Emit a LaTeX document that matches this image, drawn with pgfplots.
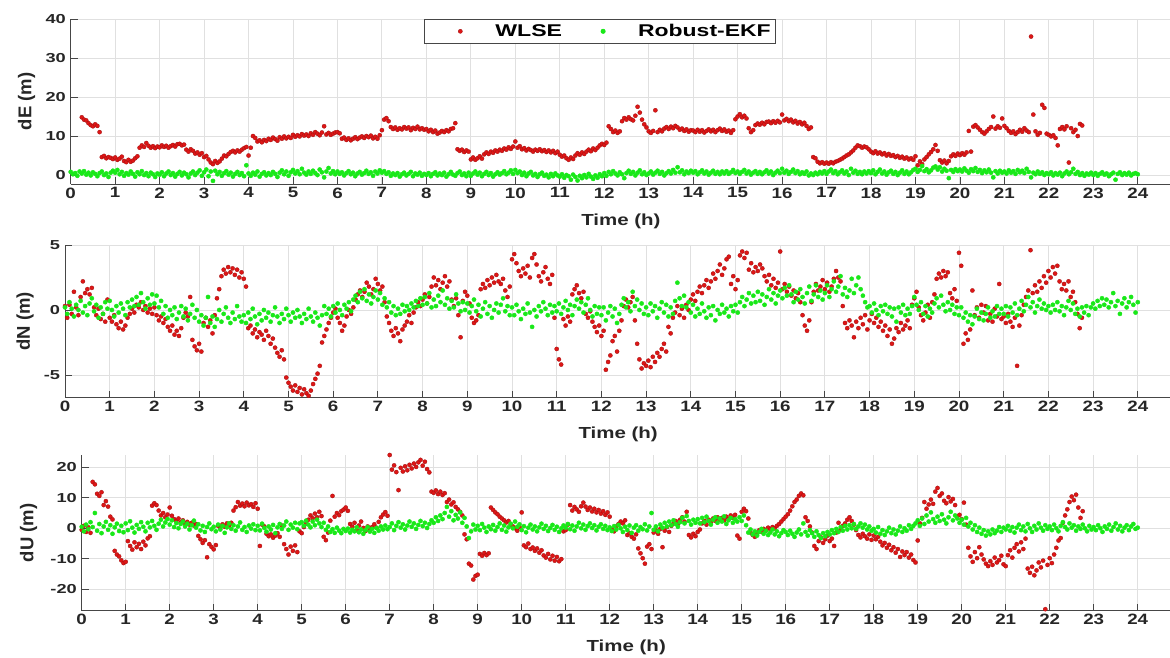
\documentclass[border=0pt]{standalone}
\usepackage{fontspec}
\setmainfont{Liberation Sans}
\usepackage{graphicx}
\usepackage{pgfplots}
\usepackage{pgfplotstable}
\pgfplotsset{compat=1.18}

\definecolor{wlse}{RGB}{222,22,22}
\definecolor{rekf}{RGB}{25,232,25}
\definecolor{gridc}{RGB}{224,224,224}
\definecolor{axc}{RGB}{70,70,70}
\definecolor{txt}{RGB}{38,38,38}

% dE (m): time, WLSE, Robust-EKF
\pgfplotstableread{
t w g
0.00 nan 0.8
0.05 nan 0.2
0.10 nan 0.5
0.15 nan -0.2
0.20 nan 0.9
0.25 14.8 0.4
0.30 14.2 1.0
0.35 14.0 0.1
0.40 13.3 0.6
0.45 12.8 -0.1
0.50 12.5 0.7
0.55 13.0 0.3
0.60 12.6 -0.3
0.65 11.0 0.5
0.70 4.6 0.9
0.75 4.9 0.0
0.80 4.3 0.4
0.85 4.6 -0.5
0.90 4.4 0.6
0.95 4.1 1.1
1.00 4.5 0.6
1.05 3.9 1.3
1.10 4.2 0.2
1.15 4.7 0.8
1.20 3.6 -0.2
1.25 3.3 0.5
1.30 3.9 0.1
1.35 3.4 0.9
1.40 3.7 0.3
1.45 4.3 -0.4
1.50 4.8 0.7
1.55 7.0 0.2
1.60 7.6 1.0
1.65 7.2 0.0
1.70 8.2 0.5
1.75 7.5 -0.3
1.80 7.0 0.6
1.85 7.4 0.2
1.90 6.9 -0.5
1.95 7.3 0.4
2.00 7.1 0.1
2.05 7.6 0.7
2.10 7.2 -0.3
2.15 7.5 0.4
2.20 7.0 0.9
2.25 7.4 0.0
2.30 7.7 0.5
2.35 7.3 -0.4
2.40 7.9 0.3
2.45 8.0 0.8
2.50 7.6 -0.1
2.55 7.8 0.6
2.60 6.5 0.2
2.65 6.0 -0.6
2.70 6.6 0.4
2.75 6.2 0.9
2.80 5.5 0.0
2.85 5.8 0.6
2.90 5.2 1.2
2.95 5.6 -0.2
3.00 4.6 0.7
3.05 4.9 1.4
3.10 4.0 -0.3
3.15 3.2 0.9
3.20 2.8 -1.5
3.25 3.6 1.1
3.30 3.1 0.2
3.35 3.5 0.8
3.40 4.2 -0.2
3.45 5.0 0.5
3.50 4.8 1.0
3.55 5.4 0.1
3.60 5.9 0.6
3.65 6.2 -0.4
3.70 5.8 0.3
3.75 6.3 0.8
3.80 6.0 0.0
3.85 6.5 0.5
3.90 6.9 -0.3
3.95 7.2 2.5
4.00 5.0 0.4
4.05 7.0 -0.2
4.10 10.0 0.6
4.15 9.5 0.1
4.20 8.6 0.9
4.25 8.9 -0.4
4.30 8.4 0.3
4.35 9.0 0.7
4.40 8.7 -0.1
4.45 9.3 0.5
4.50 9.0 0.0
4.55 9.6 0.8
4.60 9.2 0.3
4.65 8.8 -0.5
4.70 9.7 0.6
4.75 9.3 1.2
4.80 9.9 0.2
4.85 9.4 0.9
4.90 9.8 -0.2
4.95 9.5 0.7
5.00 10.3 1.3
5.05 9.8 0.4
5.10 10.2 1.0
5.15 9.9 0.2
5.20 10.5 1.6
5.25 10.1 0.6
5.30 10.4 0.1
5.35 10.0 0.9
5.40 10.7 0.3
5.45 10.3 1.1
5.50 11.0 0.5
5.55 10.6 0.0
5.60 10.2 1.4
5.65 10.9 0.7
5.70 12.5 -0.6
5.75 10.4 0.9
5.80 10.8 1.8
5.85 10.3 0.4
5.90 10.6 1.0
5.95 10.9 0.2
6.00 11.0 0.9
6.05 10.7 0.3
6.10 9.3 0.7
6.15 9.6 -0.1
6.20 9.0 0.5
6.25 9.4 1.0
6.30 8.9 0.2
6.35 9.3 0.6
6.40 9.7 -0.3
6.45 9.2 0.4
6.50 9.6 0.8
6.55 9.9 0.1
6.60 9.5 0.5
6.65 10.0 1.1
6.70 9.7 0.3
6.75 10.1 0.7
6.80 9.4 -0.2
6.85 9.8 0.9
6.90 9.3 0.4
6.95 10.2 1.2
7.00 11.5 0.6
7.05 14.2 1.0
7.10 14.6 0.3
7.15 13.8 0.7
7.20 12.3 -0.2
7.25 11.8 0.4
7.30 12.2 0.0
7.35 11.6 0.5
7.40 12.0 -0.4
7.45 11.7 0.2
7.50 12.3 0.6
7.55 11.9 -0.1
7.60 12.2 0.3
7.65 11.5 0.8
7.70 12.1 -0.3
7.75 11.8 0.4
7.80 12.4 0.1
7.85 11.7 0.6
7.90 12.0 -0.2
7.95 11.6 0.3
8.00 11.8 0.0
8.05 11.2 0.5
8.10 11.6 -0.3
8.15 11.0 0.3
8.20 11.4 0.7
8.25 10.6 -0.1
8.30 10.9 0.4
8.35 11.3 0.0
8.40 11.0 0.6
8.45 11.5 -0.4
8.50 11.2 0.2
8.55 11.8 0.8
8.60 12.0 0.1
8.65 13.3 -0.2
8.70 6.6 0.5
8.75 6.2 0.9
8.80 6.5 0.0
8.85 5.9 0.4
8.90 6.3 -0.3
8.95 6.0 0.6
9.00 4.0 -0.2
9.05 4.5 0.4
9.10 3.9 0.9
9.15 4.3 0.1
9.20 4.8 0.6
9.25 4.2 -0.3
9.30 5.3 0.3
9.35 5.8 0.8
9.40 5.4 0.0
9.45 6.0 0.5
9.50 5.7 -0.4
9.55 6.3 0.2
9.60 6.0 0.7
9.65 6.5 0.1
9.70 6.2 0.5
9.75 6.8 1.0
9.80 6.5 0.2
9.85 7.1 0.6
9.90 6.7 1.2
9.95 7.3 0.3
10.00 8.6 1.3
10.05 7.0 0.5
10.10 7.4 0.9
10.15 6.6 0.0
10.20 6.9 0.6
10.25 6.3 -0.3
10.30 6.7 0.4
10.35 6.4 0.8
10.40 6.0 -0.1
10.45 6.5 0.3
10.50 6.2 -0.5
10.55 6.6 0.2
10.60 6.1 0.6
10.65 6.4 -0.2
10.70 5.9 0.1
10.75 6.3 -0.6
10.80 5.8 0.3
10.85 6.2 -0.3
10.90 5.6 0.4
10.95 6.0 -0.1
11.00 5.2 -0.4
11.05 4.7 0.2
11.10 5.0 -0.7
11.15 4.3 0.0
11.20 3.9 -0.3
11.25 4.5 -1.2
11.30 4.1 0.1
11.35 5.0 -0.5
11.40 5.6 -1.4
11.45 5.2 -0.2
11.50 5.8 -0.8
11.55 5.4 0.0
11.60 6.0 -0.6
11.65 6.5 0.3
11.70 6.1 -0.4
11.75 6.8 -1.0
11.80 6.4 -0.1
11.85 7.0 -0.7
11.90 7.6 0.2
11.95 8.0 -0.3
12.00 7.7 0.5
12.05 8.3 -0.2
12.10 12.5 0.8
12.15 11.8 0.2
12.20 11.0 1.0
12.25 11.4 0.4
12.30 10.8 -0.1
12.35 11.2 0.7
12.40 13.8 0.2
12.45 14.6 -0.8
12.50 14.2 0.5
12.55 14.8 1.1
12.60 14.3 0.3
12.65 14.0 0.8
12.70 15.2 -0.1
12.75 17.5 0.6
12.80 16.0 1.2
12.85 14.2 0.2
12.90 13.0 0.7
12.95 12.2 0.0
13.00 11.2 0.4
13.05 10.8 0.9
13.10 11.3 0.1
13.15 16.6 0.6
13.20 11.0 1.1
13.25 11.6 0.3
13.30 11.2 0.8
13.35 11.9 -0.1
13.40 12.3 0.5
13.45 11.8 1.0
13.50 12.4 0.4
13.55 12.0 1.3
13.60 12.6 0.6
13.65 12.2 2.0
13.70 11.6 0.7
13.75 11.9 1.2
13.80 11.3 0.2
13.85 11.7 0.9
13.90 11.1 0.5
13.95 11.5 1.1
14.00 11.4 0.6
14.05 11.0 1.0
14.10 11.6 0.2
14.15 11.1 0.7
14.20 11.5 1.2
14.25 10.9 0.4
14.30 11.3 0.9
14.35 11.7 0.1
14.40 11.2 0.6
14.45 11.6 1.1
14.50 11.0 0.3
14.55 11.5 0.8
14.60 11.9 0.2
14.65 11.3 0.9
14.70 11.7 0.4
14.75 11.1 1.0
14.80 11.4 0.3
14.85 10.8 0.7
14.90 11.5 1.3
14.95 14.3 0.5
15.00 15.0 0.9
15.05 15.6 0.3
15.10 14.8 0.8
15.15 15.2 1.3
15.20 14.5 0.4
15.25 12.0 0.9
15.30 11.0 0.1
15.35 11.5 0.6
15.40 12.8 1.0
15.45 13.2 0.3
15.50 12.9 0.8
15.55 13.4 0.2
15.60 13.0 0.7
15.65 13.6 1.2
15.70 13.7 0.4
15.75 13.3 0.9
15.80 13.8 0.0
15.85 13.4 0.6
15.90 13.9 1.1
15.95 13.5 0.5
16.00 15.5 1.6
16.05 14.0 0.6
16.10 14.4 1.1
16.15 13.8 0.3
16.20 14.2 0.8
16.25 13.5 1.4
16.30 13.9 0.5
16.35 13.2 1.0
16.40 13.6 0.2
16.45 13.0 0.7
16.50 13.4 0.3
16.55 12.6 0.9
16.60 11.8 -0.1
16.65 12.2 0.4
16.70 4.6 0.0
16.75 4.3 0.6
16.80 3.4 0.2
16.85 3.0 0.8
16.90 3.3 0.4
16.95 2.9 1.0
17.00 3.2 0.3
17.05 2.9 0.9
17.10 3.3 1.4
17.15 3.0 0.5
17.20 3.4 1.0
17.25 3.6 0.2
17.30 3.9 0.7
17.35 4.2 1.2
17.40 4.6 0.4
17.45 5.0 0.9
17.50 5.3 0.0
17.55 5.8 1.6
17.60 6.3 0.6
17.65 7.0 1.1
17.70 7.6 0.3
17.75 7.4 0.8
17.80 7.0 0.2
17.85 7.3 0.9
17.90 7.1 0.4
17.95 6.6 1.0
18.00 6.0 0.5
18.05 5.6 1.2
18.10 6.1 0.2
18.15 5.5 0.8
18.20 5.8 1.4
18.25 5.3 0.4
18.30 5.6 0.9
18.35 5.0 0.1
18.40 5.4 0.7
18.45 4.9 1.1
18.50 5.1 0.3
18.55 4.6 0.8
18.60 4.9 0.0
18.65 4.4 0.6
18.70 4.7 1.2
18.75 4.2 0.3
18.80 4.5 0.9
18.85 4.0 0.2
18.90 4.3 0.7
18.95 3.9 1.3
19.00 4.8 1.6
19.05 2.5 0.8
19.10 3.5 1.3
19.15 2.8 2.3
19.20 4.0 1.0
19.25 4.6 1.5
19.30 5.3 0.7
19.35 5.9 1.2
19.40 6.6 1.9
19.45 7.7 2.2
19.50 6.2 1.4
19.55 3.8 2.0
19.60 3.2 0.9
19.65 3.7 1.6
19.70 3.0 1.1
19.75 3.6 -0.8
19.80 4.8 1.3
19.85 5.3 0.8
19.90 4.9 1.5
19.95 5.5 1.0
20.00 5.1 1.4
20.05 5.6 0.9
20.10 5.2 1.7
20.15 5.8 1.1
20.20 11.3 0.6
20.25 6.0 1.5
20.30 12.4 1.0
20.35 12.8 1.8
20.40 12.2 0.8
20.45 11.6 1.3
20.50 11.0 0.5
20.55 10.6 1.2
20.60 11.2 0.7
20.65 11.8 1.4
20.70 12.3 0.6
20.75 15.0 -0.6
20.80 11.9 1.0
20.85 12.5 0.4
20.90 12.1 1.1
20.95 14.5 0.6
21.00 12.6 0.9
21.05 12.0 0.4
21.10 11.3 1.2
21.15 10.8 0.6
21.20 11.2 1.0
21.25 10.5 0.3
21.30 11.0 1.3
21.35 11.6 0.7
21.40 11.1 1.1
21.45 12.0 0.5
21.50 11.4 1.6
21.55 11.0 0.8
21.60 35.5 -0.6
21.65 15.5 0.6
21.70 11.2 0.2
21.75 10.3 0.9
21.80 10.8 0.3
21.85 18.0 0.7
21.90 17.2 0.0
21.95 10.6 0.5
22.00 10.3 0.2
22.05 9.9 0.7
22.10 10.2 -0.1
22.15 9.5 0.5
22.20 7.6 0.1
22.25 11.8 0.6
22.30 12.3 -0.3
22.35 11.7 0.4
22.40 12.5 0.9
22.45 3.2 0.2
22.50 12.0 0.7
22.55 11.0 1.6
22.60 11.6 0.3
22.65 10.0 0.8
22.70 13.1 0.0
22.75 12.7 0.5
22.80 nan -0.2
22.85 nan 0.4
22.90 nan 0.1
22.95 nan 0.6
23.00 nan 0.0
23.05 nan 0.5
23.10 nan -0.2
23.15 nan 0.3
23.20 nan 0.7
23.25 nan 0.1
23.30 nan 0.4
23.35 nan -0.3
23.40 nan 0.2
23.45 nan 0.6
23.50 nan -1.2
23.55 nan 0.3
23.60 nan 0.7
23.65 nan 0.0
23.70 nan 0.5
23.75 nan 0.1
23.80 nan 0.6
23.85 nan -0.1
23.90 nan 0.3
23.95 nan 0.5
24.00 nan 0.2
}\tabE

% dN (m)
\pgfplotstableread{
t w g
0.00 0.3 0.2
0.05 -0.6 -0.3
0.10 0.4 0.6
0.15 -0.3 0.1
0.20 1.4 -0.5
0.25 0.2 0.4
0.30 -0.4 0.0
0.35 1.0 0.7
0.40 2.2 -0.2
0.45 1.3 0.3
0.50 1.6 -0.4
0.55 1.2 0.5
0.60 1.7 0.9
0.65 0.2 -0.1
0.70 -0.4 0.4
0.75 0.1 -0.6
0.80 -0.7 0.2
0.85 -0.3 -0.3
0.90 -0.9 0.6
0.95 0.8 0.1
1.00 -0.6 0.7
1.05 -0.9 0.0
1.10 -0.4 -0.5
1.15 -1.1 0.3
1.20 -1.4 -0.2
1.25 -0.9 0.5
1.30 -1.5 0.1
1.35 -1.2 -0.4
1.40 -0.6 0.6
1.45 -0.3 0.2
1.50 0.1 0.8
1.55 -0.2 0.3
1.60 0.4 1.0
1.65 0.2 0.4
1.70 0.6 1.3
1.75 0.0 0.6
1.80 0.3 0.1
1.85 -0.2 0.9
1.90 0.1 0.4
1.95 -0.3 1.2
2.00 0.2 0.5
2.05 -0.4 1.1
2.10 -0.8 0.2
2.15 -0.5 0.7
2.20 -1.0 -0.3
2.25 -0.7 0.3
2.30 -1.3 -0.6
2.35 -1.6 0.0
2.40 -1.2 -0.4
2.45 -1.9 0.2
2.50 -1.6 -0.7
2.55 -2.0 -0.2
2.60 -1.4 0.3
2.65 -0.6 -0.5
2.70 -0.2 0.1
2.75 -0.5 -0.8
2.80 1.0 -0.3
2.85 -2.3 0.4
2.90 -2.8 -0.6
2.95 -3.1 0.0
3.00 -2.6 -0.9
3.05 -3.2 -0.4
3.10 -1.0 -1.2
3.15 -0.6 -0.6
3.20 -1.3 1.0
3.25 -0.8 -1.0
3.30 -1.8 -0.5
3.35 -0.4 -1.3
3.40 0.9 -0.7
3.45 1.6 0.0
3.50 2.6 -0.9
3.55 3.1 -0.3
3.60 2.8 0.2
3.65 3.3 -0.6
3.70 2.9 -1.0
3.75 3.2 -0.2
3.80 2.7 -0.7
3.85 3.1 0.3
3.90 2.5 -0.5
3.95 2.9 -0.9
4.00 2.4 -0.4
4.05 1.8 -1.0
4.10 -1.4 -0.2
4.15 -1.2 -0.7
4.20 -1.8 0.1
4.25 -1.5 -0.5
4.30 -2.1 -1.1
4.35 -1.7 -0.3
4.40 -1.9 -0.8
4.45 -2.3 0.0
4.50 -1.6 -0.6
4.55 -2.0 -0.2
4.60 -2.6 -0.9
4.65 -2.2 -0.4
4.70 -2.9 0.2
4.75 -3.3 -0.5
4.80 -3.6 -1.0
4.85 -3.1 -0.3
4.90 -3.8 -0.7
4.95 -5.2 0.1
5.00 -5.6 -0.4
5.05 -5.9 -0.9
5.10 -6.2 -0.2
5.15 -5.8 -0.6
5.20 -6.3 0.0
5.25 -6.0 -0.5
5.30 -6.5 -1.0
5.35 -6.1 -0.3
5.40 -6.4 -0.7
5.45 -6.6 0.1
5.50 -6.2 -0.5
5.55 -5.7 -0.9
5.60 -5.3 -0.2
5.65 -4.9 -0.6
5.70 -4.3 -1.2
5.75 -2.5 -0.4
5.80 -2.0 0.3
5.85 -1.5 -0.3
5.90 -1.0 0.1
5.95 -0.6 -0.5
6.00 -0.2 0.3
6.05 0.1 -0.2
6.10 -0.6 0.5
6.15 -1.0 0.0
6.20 -1.6 -0.4
6.25 -1.2 0.4
6.30 -0.5 0.1
6.35 0.0 0.6
6.40 -0.3 -0.1
6.45 0.2 0.8
6.50 0.8 1.1
6.55 1.2 0.6
6.60 1.5 1.4
6.65 1.0 0.9
6.70 1.4 1.6
6.75 2.1 0.7
6.80 1.8 1.2
6.85 1.2 0.5
6.90 1.6 1.0
6.95 2.4 1.5
7.00 2.0 0.8
7.05 1.5 1.3
7.10 1.8 0.4
7.15 0.6 0.9
7.20 -0.5 0.2
7.25 -1.0 0.6
7.30 -1.6 -0.2
7.35 -2.0 0.3
7.40 -1.4 -0.4
7.45 -1.8 0.1
7.50 -2.4 -0.3
7.55 -1.5 0.4
7.60 -1.2 -0.1
7.65 -0.9 0.3
7.70 -0.4 0.0
7.75 -1.0 0.5
7.80 -0.2 0.2
7.85 0.2 0.7
7.90 0.6 0.3
7.95 0.3 0.9
8.00 0.8 0.4
8.05 1.2 1.0
8.10 0.5 0.5
8.15 1.0 1.3
8.20 1.8 0.2
8.25 2.5 0.8
8.30 1.9 0.3
8.35 2.3 1.1
8.40 1.6 0.6
8.45 2.1 1.5
8.50 2.6 0.4
8.55 1.8 0.9
8.60 2.2 0.1
8.65 0.8 0.7
8.70 0.3 0.2
8.75 0.9 1.2
8.80 -0.4 0.5
8.85 -2.1 -0.1
8.90 0.7 0.6
8.95 1.4 0.0
9.00 1.1 0.5
9.05 0.5 -0.2
9.10 -0.6 0.3
9.15 -1.0 0.8
9.20 -0.8 -0.1
9.25 -0.4 0.4
9.30 1.6 -0.5
9.35 2.0 0.1
9.40 1.7 0.6
9.45 2.3 -0.3
9.50 1.9 0.3
9.55 2.5 -0.6
9.60 2.1 0.0
9.65 2.7 0.5
9.70 2.2 -0.2
9.75 2.0 0.4
9.80 2.4 0.9
9.85 1.5 -0.1
9.90 1.0 0.3
9.95 1.8 -0.4
10.00 3.9 0.2
10.05 4.3 -0.4
10.10 3.6 0.4
10.15 3.0 -0.1
10.20 2.6 -0.7
10.25 3.2 0.1
10.30 2.8 -0.3
10.35 3.4 0.5
10.40 2.5 -0.2
10.45 4.0 -1.3
10.50 4.3 0.0
10.55 3.5 -0.5
10.60 2.6 0.3
10.65 2.2 -0.1
10.70 2.9 0.6
10.75 3.3 0.1
10.80 2.4 -0.4
10.85 2.0 0.4
10.90 2.7 -0.2
10.95 -0.6 0.3
11.00 -3.0 -0.1
11.05 -3.8 0.5
11.10 -4.2 -0.3
11.15 -0.7 0.2
11.20 -1.2 0.7
11.25 -0.5 0.0
11.30 -0.9 0.4
11.35 1.2 -0.4
11.40 1.6 0.3
11.45 1.9 0.8
11.50 1.3 0.1
11.55 0.9 0.6
11.60 1.4 -0.2
11.65 -0.3 0.4
11.70 -0.6 0.9
11.75 -0.1 0.0
11.80 -0.9 -0.5
11.85 -1.3 0.3
11.90 -1.7 -0.3
11.95 -1.2 0.2
12.00 -2.0 -0.4
12.05 -1.6 0.2
12.10 -4.6 -0.8
12.15 -4.0 -0.2
12.20 -3.5 0.3
12.25 -2.4 -0.5
12.30 -2.0 0.1
12.35 -3.2 -1.0
12.40 -1.6 -0.3
12.45 -0.8 0.4
12.50 0.3 0.9
12.55 0.8 0.2
12.60 0.2 0.6
12.65 0.6 -0.1
12.70 1.0 1.4
12.75 -0.8 0.3
12.80 -2.6 0.8
12.85 -3.8 0.0
12.90 -4.5 0.5
12.95 -4.1 -0.3
13.00 -4.3 0.2
13.05 -3.9 -0.4
13.10 -4.4 0.5
13.15 -3.6 -0.1
13.20 -4.0 0.3
13.25 -3.3 -0.6
13.30 -3.6 0.1
13.35 -3.0 0.6
13.40 -2.6 -0.2
13.45 -3.2 0.4
13.50 -1.3 -0.5
13.55 -1.8 0.2
13.60 -0.6 -0.3
13.65 -0.2 0.7
13.70 0.3 2.1
13.75 -0.4 0.9
13.80 0.1 0.3
13.85 -0.6 1.1
13.90 0.4 0.2
13.95 0.0 0.6
14.00 0.8 -0.2
14.05 1.2 0.4
14.10 0.7 -0.5
14.15 1.4 0.1
14.20 1.8 -0.3
14.25 1.3 0.5
14.30 1.9 -0.1
14.35 2.3 -0.6
14.40 1.7 0.2
14.45 2.2 -0.4
14.50 2.8 0.3
14.55 2.4 -0.8
14.60 3.0 0.0
14.65 3.5 -0.3
14.70 2.7 0.4
14.75 3.2 -0.2
14.80 3.9 0.1
14.85 4.1 -0.5
14.90 2.0 0.3
14.95 2.6 -0.1
15.00 1.6 0.4
15.05 2.3 -0.2
15.10 4.2 0.6
15.15 4.5 1.0
15.20 4.0 0.3
15.25 4.4 0.8
15.30 3.1 1.3
15.35 3.6 0.5
15.40 2.9 1.1
15.45 3.3 0.6
15.50 3.0 1.4
15.55 3.5 0.7
15.60 3.2 1.2
15.65 2.6 0.4
15.70 2.2 1.0
15.75 2.7 1.6
15.80 1.9 0.8
15.85 2.4 1.3
15.90 1.7 0.5
15.95 2.1 1.1
16.00 4.5 1.5
16.05 1.6 0.9
16.10 2.0 1.7
16.15 1.4 1.1
16.20 1.8 1.9
16.25 1.1 1.2
16.30 1.5 0.6
16.35 0.9 1.4
16.40 1.3 0.8
16.45 0.6 1.6
16.50 -0.4 1.0
16.55 -1.2 0.5
16.60 -1.6 1.3
16.65 -0.8 1.8
16.70 0.6 0.7
16.75 1.4 1.2
16.80 2.0 1.9
16.85 1.5 1.0
16.90 1.8 1.5
16.95 2.3 0.8
17.00 1.6 1.3
17.05 2.1 1.9
17.10 1.4 1.0
17.15 1.8 1.6
17.20 2.4 2.2
17.25 3.0 1.4
17.30 2.5 1.8
17.35 2.2 2.6
17.40 0.3 1.2
17.45 -1.0 1.7
17.50 -1.4 1.0
17.55 -0.8 1.5
17.60 -1.2 2.4
17.65 -2.1 1.3
17.70 -0.9 1.9
17.75 -1.4 2.5
17.80 -0.6 1.6
17.85 -1.1 1.1
17.90 -0.4 0.6
17.95 -1.5 0.2
18.00 -0.8 0.3
18.05 -0.3 -0.2
18.10 -1.0 0.5
18.15 -0.6 0.0
18.20 -1.3 -0.4
18.25 -0.9 0.3
18.30 -1.6 -0.1
18.35 -1.2 0.4
18.40 -2.0 -0.3
18.45 -1.5 0.2
18.50 -2.6 -0.5
18.55 -2.2 0.1
18.60 -1.4 -0.9
18.65 -1.7 0.2
18.70 -1.0 -0.2
18.75 -1.5 0.4
18.80 -1.2 -0.4
18.85 -0.8 0.1
18.90 -1.4 -0.3
18.95 0.4 0.3
19.00 0.9 1.0
19.05 1.4 0.4
19.10 0.2 0.0
19.15 -0.4 0.6
19.20 -0.8 -0.3
19.25 -0.2 0.3
19.30 0.4 -0.5
19.35 -0.6 0.1
19.40 0.6 -0.2
19.45 1.2 0.5
19.50 2.4 0.9
19.55 2.8 0.2
19.60 2.5 1.1
19.65 3.0 0.4
19.70 2.6 -0.1
19.75 2.9 0.6
19.80 1.3 0.0
19.85 0.9 0.4
19.90 1.6 -0.3
19.95 0.7 0.2
20.00 4.4 -0.4
20.05 3.4 0.2
20.10 -2.6 -0.6
20.15 -1.8 -0.2
20.20 -2.3 -0.9
20.25 -1.5 -0.4
20.30 1.5 -1.1
20.35 -0.4 -0.5
20.40 0.2 0.1
20.45 -0.6 -0.7
20.50 0.4 -0.2
20.55 -0.2 -0.8
20.60 0.3 -0.3
20.65 -0.8 0.2
20.70 -0.3 -0.6
20.75 -0.9 -0.1
20.80 0.1 -0.5
20.85 -0.5 0.3
20.90 2.0 -0.3
20.95 -0.7 0.1
21.00 -0.5 -0.3
21.05 -1.0 0.3
21.10 -0.3 -0.5
21.15 -0.9 0.2
21.20 -1.3 -0.2
21.25 -0.6 0.5
21.30 -4.3 -0.4
21.35 -1.2 0.1
21.40 -0.4 0.7
21.45 0.4 -0.1
21.50 1.0 0.4
21.55 1.5 1.0
21.60 4.6 0.2
21.65 1.3 0.6
21.70 1.9 -0.2
21.75 1.4 0.3
21.80 2.2 0.8
21.85 1.7 0.1
21.90 2.6 0.5
21.95 2.1 0.0
22.00 3.0 0.3
22.05 2.5 -0.2
22.10 3.3 0.4
22.15 2.8 0.0
22.20 3.4 0.6
22.25 2.2 -0.1
22.30 1.6 0.3
22.35 2.0 -0.4
22.40 1.5 0.2
22.45 2.2 0.7
22.50 1.0 0.0
22.55 1.4 0.5
22.60 0.6 -0.3
22.65 -0.3 0.1
22.70 -1.4 -0.5
22.75 -0.6 0.2
22.80 nan -0.2
22.85 nan 0.3
22.90 nan -0.4
22.95 nan 0.2
23.00 nan 0.5
23.05 nan 0.1
23.10 nan 0.7
23.15 nan 0.3
23.20 nan 0.9
23.25 nan 0.4
23.30 nan 0.8
23.35 nan 0.2
23.40 nan 0.6
23.45 nan 1.3
23.50 nan 0.3
23.55 nan 0.7
23.60 nan -0.3
23.65 nan 0.5
23.70 nan 0.9
23.75 nan 0.2
23.80 nan 0.6
23.85 nan 1.0
23.90 nan 0.4
23.95 nan -0.2
24.00 nan 0.6
}\tabN

% dU (m)
\pgfplotstableread{
t w g
0.00 -0.5 0.5
0.05 0.8 -1.0
0.10 -1.2 1.2
0.15 0.3 -0.3
0.20 -1.5 2.0
0.25 15.2 0.4
0.30 14.4 5.0
0.35 11.3 -0.8
0.40 10.6 1.4
0.45 11.8 -1.6
0.50 7.6 0.6
0.55 8.9 2.1
0.60 7.1 -0.5
0.65 3.8 1.0
0.70 2.9 -1.8
0.75 -7.4 0.3
0.80 -8.6 1.5
0.85 -9.2 -0.9
0.90 -10.5 0.8
0.95 -11.4 -1.3
1.00 -11.0 1.6
1.05 -4.2 -0.6
1.10 -5.8 2.3
1.15 -7.0 0.2
1.20 -4.6 -1.4
1.25 -6.2 1.1
1.30 -5.1 -0.2
1.35 -6.8 2.0
1.40 -4.4 0.5
1.45 -5.6 -1.0
1.50 -3.3 1.8
1.55 -2.6 0.3
1.60 7.4 2.4
1.65 8.2 0.8
1.70 7.6 -0.5
1.75 5.8 1.5
1.80 4.2 2.8
1.85 5.0 0.6
1.90 3.6 1.9
1.95 4.5 3.0
2.00 6.8 1.2
2.05 4.1 2.6
2.10 3.0 0.4
2.15 2.4 1.7
2.20 3.2 0.0
2.25 1.9 1.4
2.30 2.6 2.2
2.35 1.5 0.6
2.40 2.1 1.5
2.45 1.2 -0.4
2.50 1.8 1.0
2.55 0.9 2.5
2.60 1.4 0.2
2.65 -2.5 1.3
2.70 -3.6 -0.7
2.75 -4.8 0.8
2.80 -3.9 -1.2
2.85 -9.5 0.4
2.90 -5.2 1.6
2.95 -6.1 -0.3
3.00 -6.9 0.5
3.05 -5.5 -1.0
3.10 0.8 1.2
3.15 0.2 -0.4
3.20 1.3 0.8
3.25 0.5 -1.5
3.30 1.6 0.3
3.35 0.9 1.6
3.40 1.8 -0.2
3.45 5.8 1.0
3.50 6.9 -0.8
3.55 8.6 0.6
3.60 7.4 1.9
3.65 8.1 -0.5
3.70 7.2 0.4
3.75 8.4 -1.2
3.80 7.5 0.9
3.85 7.9 -0.1
3.90 7.0 1.3
3.95 8.2 -0.6
4.00 6.4 0.8
4.05 -5.8 -0.7
4.10 1.2 1.5
4.15 0.6 0.1
4.20 -1.8 -1.1
4.25 -2.6 0.6
4.30 -2.0 -0.4
4.35 -3.1 1.1
4.40 -2.4 -1.6
4.45 -1.6 0.3
4.50 -2.8 1.4
4.55 0.9 -0.2
4.60 -5.2 0.9
4.65 -6.8 2.2
4.70 -8.6 -0.5
4.75 -6.0 1.2
4.80 -7.4 0.2
4.85 -5.6 1.8
4.90 -7.8 -0.3
4.95 -1.0 1.6
5.00 -1.6 2.0
5.05 0.4 0.8
5.10 1.5 2.5
5.15 2.8 1.2
5.20 4.2 0.3
5.25 3.3 2.2
5.30 4.8 1.0
5.35 3.6 2.8
5.40 5.4 1.6
5.45 4.0 0.4
5.50 -2.8 1.8
5.55 -3.9 -0.5
5.60 -1.4 0.6
5.65 2.5 -1.2
5.70 10.6 -0.3
5.75 3.8 -1.5
5.80 5.0 0.2
5.85 4.3 -0.8
5.90 5.6 -1.6
5.95 6.1 -0.2
6.00 6.8 -0.9
6.05 5.7 -0.1
6.10 1.4 -1.4
6.15 0.5 -0.5
6.20 1.8 -1.0
6.25 -0.6 0.3
6.30 0.9 -1.3
6.35 2.2 -0.4
6.40 0.1 -1.8
6.45 -0.9 -0.6
6.50 0.6 0.4
6.55 -0.3 -1.1
6.60 0.4 -0.2
6.65 1.3 -1.5
6.70 0.2 0.1
6.75 2.1 -0.8
6.80 3.6 0.6
6.85 4.5 -0.4
6.90 5.3 0.9
6.95 4.1 -0.3
7.00 24.0 0.4
7.05 19.2 1.6
7.10 20.6 -0.6
7.15 18.4 0.8
7.20 12.5 2.0
7.25 19.8 0.2
7.30 18.6 1.3
7.35 20.3 -0.4
7.40 19.0 0.9
7.45 20.8 2.2
7.50 19.6 0.5
7.55 21.2 1.6
7.60 20.1 -0.2
7.65 21.6 1.1
7.70 22.4 2.4
7.75 20.5 0.7
7.80 21.8 1.8
7.85 19.4 0.1
7.90 18.3 1.4
7.95 12.0 2.6
8.00 11.6 1.8
8.05 12.4 3.6
8.10 11.2 2.4
8.15 12.0 4.2
8.20 10.9 3.0
8.25 11.5 5.0
8.30 8.6 7.0
8.35 9.4 3.8
8.40 7.8 5.6
8.45 8.5 2.6
8.50 7.0 4.4
8.55 6.2 3.2
8.60 5.4 5.2
8.65 4.2 1.8
8.70 -2.0 3.4
8.75 -3.6 0.6
8.80 -11.6 -3.2
8.85 -12.2 -1.0
8.90 -16.8 1.2
8.95 -15.6 -0.4
9.00 -15.2 0.8
9.05 -8.4 -0.6
9.10 -9.0 1.4
9.15 -8.1 0.2
9.20 -8.8 -1.2
9.25 -8.2 0.6
9.30 6.8 -0.3
9.35 6.0 1.1
9.40 5.2 -0.8
9.45 4.6 0.4
9.50 3.8 1.6
9.55 3.2 -0.5
9.60 2.6 0.9
9.65 1.9 -1.1
9.70 2.4 0.3
9.75 1.2 1.5
9.80 0.6 0.0
9.85 0.0 2.2
9.90 -0.8 0.5
9.95 0.4 1.3
10.00 5.2 -0.6
10.05 -5.6 0.7
10.10 -6.2 -1.3
10.15 -5.0 0.2
10.20 -6.8 1.2
10.25 -6.3 -0.4
10.30 -7.4 0.6
10.35 -6.6 -1.0
10.40 -8.0 0.3
10.45 -7.2 1.5
10.50 -8.9 -0.2
10.55 -9.6 0.8
10.60 -8.4 -0.9
10.65 -10.2 0.1
10.70 -9.0 1.1
10.75 -10.6 -0.5
10.80 -9.4 0.5
10.85 -10.8 -1.2
10.90 -10.1 0.0
10.95 -1.0 0.9
11.00 -0.6 0.2
11.05 1.2 1.4
11.10 7.6 -0.3
11.15 5.8 0.9
11.20 7.0 -0.8
11.25 6.2 0.6
11.30 5.4 1.8
11.35 7.2 0.0
11.40 8.4 1.2
11.45 7.1 -0.5
11.50 6.0 0.7
11.55 6.8 1.6
11.60 5.5 0.1
11.65 6.4 1.0
11.70 5.2 -0.7
11.75 6.0 0.5
11.80 4.8 1.3
11.85 5.6 -0.2
11.90 4.4 0.8
11.95 5.2 -0.6
12.00 3.8 0.3
12.05 -0.4 -0.9
12.10 -1.0 0.7
12.15 0.6 -0.4
12.20 1.4 1.1
12.25 2.2 0.0
12.30 1.6 -1.2
12.35 2.6 0.5
12.40 -2.2 -0.6
12.45 -1.6 0.9
12.50 -2.8 -1.5
12.55 -3.4 0.2
12.60 -2.0 1.0
12.65 -6.6 -0.8
12.70 -8.2 0.4
12.75 -9.8 -0.3
12.80 -11.6 1.3
12.85 -6.0 -0.7
12.90 -5.2 0.6
12.95 -6.8 5.0
13.00 -1.4 -0.5
13.05 -0.6 0.6
13.10 -1.8 -1.0
13.15 -0.2 1.2
13.20 -6.2 0.2
13.25 -0.8 1.8
13.30 0.4 0.6
13.35 -1.2 2.2
13.40 0.8 1.0
13.45 1.6 2.6
13.50 2.4 1.4
13.55 1.4 0.5
13.60 2.8 2.0
13.65 3.6 3.4
13.70 2.2 1.6
13.75 5.4 4.0
13.80 -2.2 2.4
13.85 -3.0 1.2
13.90 -1.8 2.8
13.95 -2.6 1.8
14.00 -1.2 3.0
14.05 -0.4 1.6
14.10 1.6 3.4
14.15 2.4 2.0
14.20 1.2 3.8
14.25 2.8 2.4
14.30 2.0 1.2
14.35 3.2 2.8
14.40 2.4 3.6
14.45 3.6 1.8
14.50 2.8 3.2
14.55 3.4 2.2
14.60 2.6 3.9
14.65 3.8 1.4
14.70 3.0 2.6
14.75 4.2 3.4
14.80 3.4 1.8
14.85 4.4 3.0
14.90 -2.4 2.2
14.95 -3.4 3.6
15.00 5.4 2.4
15.05 6.4 4.2
15.10 5.6 1.0
15.15 3.2 -1.4
15.20 -1.4 -0.4
15.25 -2.2 -2.0
15.30 -2.8 -1.0
15.35 -1.6 -2.4
15.40 -0.6 -1.2
15.45 -1.2 -0.2
15.50 -0.2 -1.8
15.55 -0.8 -0.8
15.60 0.2 -2.2
15.65 -0.4 -1.4
15.70 0.4 -0.4
15.75 0.0 -2.0
15.80 0.8 -1.0
15.85 1.4 -2.6
15.90 2.2 -1.6
15.95 3.0 -0.6
16.00 3.8 -1.2
16.05 4.6 -2.2
16.10 5.8 -0.8
16.15 7.2 -1.8
16.20 8.6 -2.8
16.25 9.4 -1.4
16.30 10.6 -0.4
16.35 11.4 -2.0
16.40 10.8 1.6
16.45 3.6 -1.2
16.50 2.4 -2.4
16.55 0.6 -0.6
16.60 -1.4 -1.6
16.65 -5.8 -2.8
16.70 -6.8 -1.0
16.75 -4.2 -2.2
16.80 -3.0 -3.2
16.85 -4.8 -1.6
16.90 -3.6 -2.6
16.95 -2.4 -1.2
17.00 -4.2 -2.0
17.05 -3.4 -0.6
17.10 -5.8 -1.6
17.15 -1.4 -0.2
17.20 1.8 -1.2
17.25 -0.4 0.4
17.30 0.8 -0.8
17.35 1.6 0.8
17.40 2.8 -0.4
17.45 3.6 1.0
17.50 2.4 0.0
17.55 1.2 1.4
17.60 -0.6 -0.2
17.65 -2.2 0.6
17.70 -3.0 1.6
17.75 -1.8 0.2
17.80 -2.6 1.2
17.85 -3.4 -0.4
17.90 -2.0 0.6
17.95 -3.8 -0.8
18.00 -2.4 -0.2
18.05 -3.6 -1.4
18.10 -2.8 0.4
18.15 -4.4 -1.8
18.20 -5.6 -0.6
18.25 -4.8 -2.2
18.30 -6.4 -1.0
18.35 -5.4 0.2
18.40 -7.2 -1.6
18.45 -6.2 -0.4
18.50 -8.0 -2.0
18.55 -6.8 -0.8
18.60 -9.4 0.6
18.65 -7.6 -1.2
18.70 -8.8 0.0
18.75 -7.8 -0.8
18.80 -9.6 1.0
18.85 -8.6 -0.2
18.90 -10.4 0.8
18.95 -11.2 1.6
19.00 -4.0 2.6
19.05 1.6 0.8
19.10 3.4 3.2
19.15 8.6 1.4
19.20 6.4 4.2
19.25 7.8 2.2
19.30 9.4 5.2
19.35 8.0 3.0
19.40 12.0 1.8
19.45 13.2 3.8
19.50 10.6 2.4
19.55 11.4 4.6
19.60 9.0 2.8
19.65 8.2 1.6
19.70 10.2 3.6
19.75 8.8 5.4
19.80 9.6 2.6
19.85 7.6 4.2
19.90 3.8 3.2
19.95 4.4 1.8
20.00 3.0 2.8
20.05 8.4 1.2
20.10 1.2 3.4
20.15 -6.4 0.6
20.20 -9.2 1.8
20.25 -11.0 -0.4
20.30 -7.8 1.0
20.35 -9.8 -1.2
20.40 -6.2 0.2
20.45 -8.6 -1.8
20.50 -10.2 -0.6
20.55 -11.6 -2.4
20.60 -12.4 -1.0
20.65 -10.8 -2.0
20.70 -12.0 -0.4
20.75 -9.6 -1.6
20.80 -11.2 -0.8
20.85 -10.4 0.4
20.90 -9.0 -1.2
20.95 -11.8 0.2
21.00 -12.4 -0.4
21.05 -8.8 0.8
21.10 -7.2 -0.8
21.15 -9.6 0.4
21.20 -6.4 -1.4
21.25 -5.2 0.2
21.30 -7.6 1.2
21.35 -4.6 -0.6
21.40 -6.8 0.6
21.45 -3.4 -1.0
21.50 -13.2 1.4
21.55 -14.6 0.0
21.60 -12.6 -1.2
21.65 -15.4 0.8
21.70 -13.8 -0.4
21.75 -11.2 1.6
21.80 -12.8 0.2
21.85 -10.6 -0.8
21.90 -26.5 1.0
21.95 -12.0 -0.2
22.00 -9.8 0.6
22.05 -11.4 -0.6
22.10 -8.6 1.2
22.15 -6.4 0.0
22.20 -4.0 -1.0
22.25 -3.2 0.8
22.30 1.8 2.0
22.35 4.2 0.4
22.40 6.2 -0.4
22.45 8.6 1.6
22.50 10.4 0.2
22.55 9.2 1.0
22.60 11.0 -0.8
22.65 6.8 0.6
22.70 3.4 -0.2
22.75 5.6 1.2
22.80 nan 0.0
22.85 nan -1.0
22.90 nan 0.8
22.95 nan -0.4
23.00 nan 0.4
23.05 nan -0.6
23.10 nan 1.0
23.15 nan 0.0
23.20 nan -1.2
23.25 nan 0.6
23.30 nan -0.2
23.35 nan 1.2
23.40 nan -0.8
23.45 nan 0.4
23.50 nan 1.6
23.55 nan -0.4
23.60 nan 0.8
23.65 nan -1.0
23.70 nan 0.2
23.75 nan 1.0
23.80 nan -0.6
23.85 nan 0.6
23.90 nan 1.4
23.95 nan -0.2
24.00 nan 0.2
}\tabU

\pgfplotsset{
  panel/.style={
    scale only axis,
    xmin=0, xmax=24.75,
    xtick={0,1,...,24},
    xticklabels={0,1,2,3,4,5,6,7,8,9,10,11,12,13,14,15,16,17,18,19,20,21,22,23,24},
    axis x line*=bottom, axis y line*=left,
    axis line style={draw=axc, line width=0.9pt},
    tick style={draw=axc, line width=0.8pt},
    major tick length=7pt,
    tick align=inside,
    grid=major,
    grid style={draw=gridc, line width=0.9pt},
    xticklabel style={font=\fontsize{15}{17}\selectfont\bfseries, text=txt, xscale=1.25},
    yticklabel style={font=\fontsize{13}{15}\selectfont\bfseries, text=txt, xscale=1.4},
    xlabel={Time (h)},
    xlabel style={font=\fontsize{16}{18}\selectfont\bfseries, text=txt, xscale=1.28,
      at={(axis description cs:0.5,0)}, anchor=center, yshift=-37pt},
    ylabel style={font=\fontsize{18.5}{20}\selectfont\bfseries, text=txt, anchor=center},
  },
  wl/.style={only marks, mark=*, mark size=2.1pt, color=wlse,
    mark options={fill=wlse, draw=wlse!72!black, line width=0.3pt}},
  ek/.style={only marks, mark=*, mark size=2.1pt, color=rekf,
    mark options={fill=rekf, draw=rekf}},
}

\begin{document}
\begin{tikzpicture}
\path[use as bounding box] (0pt,0pt) rectangle (1170pt,657pt);

% dE
\begin{axis}[panel,
  at={(70.7pt,473pt)}, anchor=south west,
  width=1100.4pt, height=165pt,
  ymin=-2.3, ymax=40,
  ytick={0,10,20,30,40}, yticklabels={0,10,20,30,40},
  ylabel={dE (m)},
  ylabel style={at={(axis description cs:-0.040,0.5)}},
  legend columns=2,
  legend image code/.code={%
    \path[draw=none, fill=none] (0pt,-5pt) rectangle (66pt,5pt);
    \draw[#1] plot coordinates {(33pt,0pt)};},
  legend style={at={(axis description cs:0.481,1)}, anchor=north,
    draw=axc, line width=0.8pt, fill=white, inner sep=3pt,
    font=\fontsize{17}{19}\selectfont\bfseries, text=black,
    /tikz/every even column/.append style={column sep=6pt}},
]
\addplot[wl] table[x=t, y=w] {\tabE};
\addlegendentry{\scalebox{1.36}[1]{WLSE}}
\addplot[ek] table[x=t, y=g] {\tabE};
\addlegendentry{\scalebox{1.35}[1]{Robust-EKF}}
\end{axis}

% dN
\begin{axis}[panel,
  at={(65pt,259.3pt)}, anchor=south west,
  width=1106.3pt, height=152.7pt,
  ymin=-6.75, ymax=5,
  ytick={-5,0,5}, yticklabels={-5,0,5},
  ylabel={dN (m)},
  ylabel style={at={(axis description cs:-0.036,0.5)}},
]
\addplot[wl] table[x=t, y=w] {\tabN};
\addplot[ek] table[x=t, y=g] {\tabN};
\end{axis}

% dU
\begin{axis}[panel,
  at={(81.7pt,46.3pt)}, anchor=south west,
  width=1089pt, height=155.7pt,
  ymin=-27, ymax=24,
  ytick={-20,-10,0,10,20}, yticklabels={-20,-10,0,10,20},
  ylabel={dU (m)},
  ylabel style={at={(axis description cs:-0.0487,0.5)}},
]
\addplot[wl] table[x=t, y=w] {\tabU};
\addplot[ek] table[x=t, y=g] {\tabU};
\end{axis}
\end{tikzpicture}
\end{document}
